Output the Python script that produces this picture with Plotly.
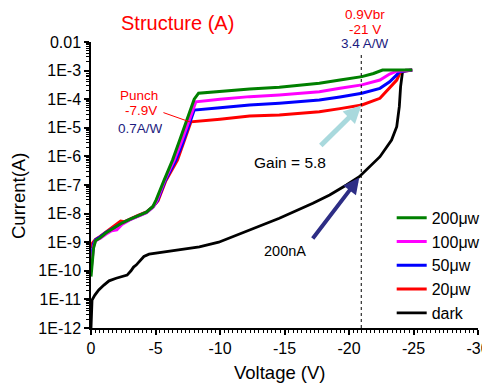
import plotly.graph_objects as go

# ---------------- data (voltage in V, current as log10(A)) ----------------
v_200 = [0, -0.08, -0.2, -0.35, -0.7, -1.15, -1.8, -2.4, -3.0, -3.6, -4.3, -4.8, -5.05, -5.67, -6.32,
         -6.9, -7.5, -8.0, -8.34, -10.0, -12.3, -14.6, -17.7, -19.3, -21.0, -21.9, -22.6, -24.9]
l_200 = [-10.2, -9.8, -9.2, -8.95, -8.85, -8.68, -8.5, -8.33, -8.2, -8.08, -7.95, -7.75, -7.52, -6.83, -6.13,
         -5.4, -4.65, -4.0, -3.79, -3.72, -3.64, -3.58, -3.44, -3.33, -3.21, -3.1, -2.98, -2.98]

v_100 = [0, -0.08, -0.2, -0.35, -0.7, -1.15, -1.6, -2.0, -2.4, -3.0, -3.6, -4.3, -4.8, -5.1, -5.7, -6.45,
         -7.0, -7.6, -7.95, -8.13, -10.0, -12.3, -14.6, -17.7, -19.3, -21.0, -22.4, -23.15, -23.7, -24.9]
l_100 = [-10.0, -9.7, -9.15, -8.95, -8.87, -8.72, -8.6, -8.57, -8.38, -8.22, -8.1, -7.97, -7.78, -7.55, -6.85, -6.13,
         -5.5, -4.75, -4.3, -4.09, -4.0, -3.91, -3.85, -3.74, -3.62, -3.5, -3.33, -3.12, -3.02, -2.98]

v_50 = [0, -0.08, -0.2, -0.35, -0.7, -1.15, -1.8, -2.4, -3.0, -3.6, -4.3, -4.8, -5.15, -5.75, -6.58,
        -7.1, -7.6, -7.85, -8.0, -10.0, -12.3, -14.6, -17.7, -19.3, -21.0, -22.4, -23.15, -23.7, -23.9, -24.9]
l_50 = [-9.6, -9.3, -9.05, -8.92, -8.82, -8.66, -8.48, -8.34, -8.21, -8.09, -7.96, -7.77, -7.55, -6.85, -6.13,
        -5.55, -4.9, -4.55, -4.38, -4.3, -4.2, -4.14, -4.03, -3.92, -3.79, -3.62, -3.39, -3.15, -3.04, -2.98]

v_20 = [0, -0.08, -0.2, -0.35, -0.7, -1.15, -1.8, -2.3, -2.6, -3.0, -3.6, -4.3, -4.8, -5.2, -5.8, -6.7,
        -7.2, -7.55, -7.75, -10.0, -12.3, -14.6, -17.7, -19.3, -21.0, -22.4, -23.15, -23.7, -24.0, -24.9]
l_20 = [-9.2, -9.05, -8.98, -8.9, -8.8, -8.65, -8.45, -8.26, -8.28, -8.19, -8.07, -7.94, -7.76, -7.55, -6.85, -6.13,
        -5.5, -5.05, -4.79, -4.7, -4.59, -4.55, -4.44, -4.33, -4.2, -3.97, -3.62, -3.33, -3.04, -2.98]

v_dark = [0, -0.02, -0.08, -0.3, -0.6, -1.0, -1.4, -1.95, -2.8, -3.1, -3.3, -3.5, -4.1, -4.5, -5.8, -7.0,
          -8.4, -9.9, -12.0, -14.6, -17.2, -18.5, -19.8, -20.8, -22.4, -23.3, -23.7, -23.9, -24.0, -24.15,
          -24.4, -24.9]
l_dark = [-12.0, -11.5, -11.02, -10.85, -10.67, -10.5, -10.35, -10.26, -10.15, -10.0, -9.87, -9.8, -9.5, -9.42,
          -9.34, -9.25, -9.16, -9.0, -8.63, -8.16, -7.64, -7.35, -7.0, -6.71, -6.01, -5.43, -4.96, -4.26, -3.56,
          -3.04, -2.98, -2.98]

series_names = ["dark", "20\u03bcw", "50\u03bcw", "100\u03bcw", "200\u03bcw"]
series_colors = ["#000000", "#ff0000", "#0000ff", "#ff00ff", "#008000"]

x_ticks = [0, -5, -10, -15, -20, -25, -30]
x_ticktext = ["0", "-5", "-10", "-15", "-20", "-25", "-30"]
y_tick_exp = [-12, -11, -10, -9, -8, -7, -6, -5, -4, -3, -2]
y_ticktext = ["1E-12", "1E-11", "1E-10", "1E-9", "1E-8", "1E-7", "1E-6", "1E-5", "1E-4", "1E-3", "0.01"]

v_ref = -20.95          # 0.9 Vbr
v_ref_top = -2.35       # log10 top of the dashed marker

FONT = "Liberation Sans, Arial, sans-serif"

fig = go.Figure()

all_v = [v_dark, v_20, v_50, v_100, v_200]
all_l = [l_dark, l_20, l_50, l_100, l_200]
for v, l, name, col in zip(all_v, all_l, series_names, series_colors):
    fig.add_trace(go.Scatter(
        x=v, y=[10 ** e for e in l], mode="lines", name=name,
        line=dict(color=col, width=3 if name != "dark" else 2.8),
    ))

# dashed 0.9Vbr marker
fig.add_trace(go.Scatter(
    x=[v_ref, v_ref], y=[10 ** -12, 10 ** v_ref_top], mode="lines", showlegend=False,
    line=dict(color="black", width=1, dash="3px,3px"), hoverinfo="skip", cliponaxis=False,
))

ann = []
def txt(x, y, text, color, size, xref="x", yref="y", **kw):
    ann.append(dict(x=x, y=y, xref=xref, yref=yref, text=text, showarrow=False,
                    xanchor="center", yanchor="middle",
                    font=dict(family=FONT, size=size, color=color), **kw))

# Title
txt(0.2248, 1.0664, "Structure (A)", "#ff0000", 20, xref="paper", yref="paper")
# 0.9Vbr block (above the plot area)
txt(0.708, 1.099, "0.9Vbr", "#ff0000", 13.5, xref="paper", yref="paper", height=14)
txt(0.708, 1.046, "-21 V", "#ff0000", 13.5, xref="paper", yref="paper", height=14)
txt(0.708, 0.995, "3.4 A/W", "#1c1c80", 13.5, xref="paper", yref="paper", height=14)
# Punch block
txt(-3.73, -3.86, "Punch", "#ff0000", 13.5, height=14)
txt(-3.89, -4.38, "-7.9V", "#ff0000", 13.5, height=14)
txt(-3.8, -4.99, "0.7A/W", "#1c1c80", 13.5, height=14)
# Gain / 200nA
txt(-15.4, -6.2, "Gain = 5.8", "#000000", 15.5)
txt(-15.0, -9.31, "200nA", "#000000", 14.5)
# axis titles
txt(-0.1886, 0.4615, "Current(A)", "#000000", 18.5, xref="paper", yref="paper", textangle=-90)
txt(0.4884, -0.1573, "Voltage (V)", "#000000", 18.5, xref="paper", yref="paper")

# arrows
ann.append(dict(x=-7.7, y=-4.8, ax=-5.5, ay=-4.45, xref="x", yref="y", axref="x", ayref="y",
                text="", showarrow=True, arrowhead=0, arrowwidth=1, arrowcolor="#ff0000"))
ann.append(dict(x=-20.95, y=-4.22, ax=-17.7, ay=-5.67, xref="x", yref="y", axref="x", ayref="y",
                text="", showarrow=True, arrowhead=2, arrowsize=0.7, arrowwidth=5, arrowcolor="#a9d9dd"))
ann.append(dict(x=-20.8, y=-6.74, ax=-17.1, ay=-8.92, xref="x", yref="y", axref="x", ayref="y",
                text="", showarrow=True, arrowhead=2, arrowsize=0.8, arrowwidth=4, arrowcolor="#2d2d85"))

# the page adds an 8px body margin, so the figure is 8px smaller and margins shifted
fig.update_layout(
    width=482, height=377,
    margin=dict(l=83, r=12, t=34, b=57, autoexpand=False),
    paper_bgcolor="white", plot_bgcolor="white",
    font=dict(family=FONT, size=16, color="black"),
    showlegend=True,
    legend=dict(x=0.777, y=0.445, xanchor="left", yanchor="top", traceorder="reversed",
                bgcolor="rgba(0,0,0,0)", font=dict(family=FONT, size=16, color="black"),
                itemwidth=30, tracegroupgap=0),
    annotations=ann,
)
fig.update_xaxes(
    range=[0, -30], tickmode="array", tickvals=x_ticks, ticktext=x_ticktext,
    ticks="outside", ticklen=5, tickwidth=1.5, tickcolor="black",
    showline=True, linewidth=1.5, linecolor="black", showgrid=False, zeroline=False,
    minor=dict(ticks="outside", ticklen=3, tickwidth=1, tickcolor="black", dtick=1 / 3, tick0=0, showgrid=False),
    tickfont=dict(family=FONT, size=16, color="black"),
)
fig.update_yaxes(
    type="log", range=[-12, -2], tickmode="array",
    tickvals=[10 ** e for e in y_tick_exp], ticktext=y_ticktext,
    ticks="outside", ticklen=5, tickwidth=1.5, tickcolor="black",
    showline=True, linewidth=1.5, linecolor="black", showgrid=False, zeroline=False,
    minor=dict(ticks="outside", ticklen=3, tickwidth=1, tickcolor="black", dtick="D1", showgrid=False),
    tickfont=dict(family=FONT, size=16, color="black"),
)

fig.write_html("out.html")
